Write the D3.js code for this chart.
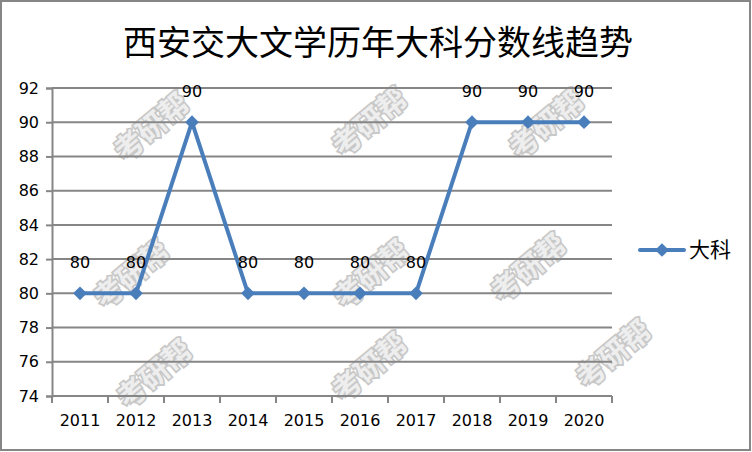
<!DOCTYPE html>
<html><head><meta charset="utf-8">
<script src="https://cdn.jsdelivr.net/npm/d3@7/dist/d3.min.js"></script>
<style>body{margin:0;background:#fff}svg{display:block}</style>
</head><body><svg id="c" width="752" height="452"></svg>
<script>
const title = "西安交大文学历年大科分数线趋势";
const years = ["2011","2012","2013","2014","2015","2016","2017","2018","2019","2020"];
const scores = [80,80,90,80,80,80,80,90,90,90];
const seriesName = "大科";
const yTicks = [74,76,78,80,82,84,86,88,90,92];
const watermarks = [[150,125],[368,120],[545,122],[130,272],[370,272],[527,266],[153,372],[368,365],[612,352]];

const svg = d3.select("#c");
const font = "'Noto Sans CJK SC','DejaVu Sans',sans-serif";
const numFont = "'DejaVu Sans','Liberation Sans',sans-serif";
svg.append("rect").attr("x",1).attr("y",1).attr("width",749).attr("height",449)
  .attr("fill","#fff").attr("stroke","#868686").attr("stroke-width",2);

const L=52,R=612,T=88,B=396;
const x = d3.scaleBand().domain(years).range([L,R]);
const y = d3.scaleLinear().domain([74,92]).range([B,T]);

// watermarks
const wm = svg.append("g");
wm.selectAll("text.o").data(watermarks).join("text").attr("class","o")
  .attr("transform",d=>`translate(${d[0]},${d[1]}) rotate(-40)`)
  .attr("text-anchor","middle").attr("dominant-baseline","central")
  .attr("font-family",font).attr("font-weight","bold").attr("font-size",29)
  .attr("fill","none").attr("stroke","#c8c8c8").attr("stroke-width",3.5)
  .text("考研帮");
wm.selectAll("text.f").data(watermarks).join("text").attr("class","f")
  .attr("transform",d=>`translate(${d[0]},${d[1]}) rotate(-40)`)
  .attr("text-anchor","middle").attr("dominant-baseline","central")
  .attr("font-family",font).attr("font-weight","bold").attr("font-size",29)
  .attr("fill","#eeeeee")
  .text("考研帮");

// gridlines
svg.append("g").selectAll("line").data(yTicks).join("line")
  .attr("x1",L).attr("x2",R).attr("y1",d=>y(d)).attr("y2",d=>y(d))
  .attr("stroke","#868686").attr("stroke-width",2);

// y axis
const ya = svg.append("g").attr("transform",`translate(${L},0)`)
  .call(d3.axisLeft(y).tickValues(yTicks).tickSize(6).tickPadding(6));
ya.select(".domain").attr("stroke","#868686").attr("stroke-width",2);
ya.selectAll(".tick line").attr("stroke","#868686").attr("stroke-width",2);
ya.selectAll("text").attr("font-family",numFont).attr("font-size",16).attr("fill","#000")
  .attr("x",-13);

// x axis
const xa = svg.append("g").attr("transform",`translate(0,${B})`)
  .call(d3.axisBottom(x).tickSize(0).tickPadding(19));
xa.select(".domain").remove();
xa.selectAll("text").attr("font-family",numFont).attr("font-size",16).attr("fill","#000");
const bounds = years.map(d=>x(d)).concat([R]);
svg.append("g").selectAll("line").data(bounds).join("line")
  .attr("x1",d=>d).attr("x2",d=>d).attr("y1",B).attr("y2",B+7)
  .attr("stroke","#868686").attr("stroke-width",2);
svg.append("line").attr("x1",L).attr("x2",R).attr("y1",B).attr("y2",B)
  .attr("stroke","#868686").attr("stroke-width",2);

// line
const cx = d=>x(d)+x.bandwidth()/2;
const pts = years.map((d,i)=>({yr:d,v:scores[i]}));
svg.append("path").datum(pts)
  .attr("d",d3.line().x(d=>cx(d.yr)).y(d=>y(d.v)))
  .attr("fill","none").attr("stroke","#4a7ebb").attr("stroke-width",4).attr("stroke-linejoin","round");
const diamond = d3.symbol().type(d3.symbolDiamond2).size(120);
svg.append("g").selectAll("path").data(pts).join("path")
  .attr("transform",d=>`translate(${cx(d.yr)},${y(d.v)})`)
  .attr("d",diamond).attr("fill","#4a7ebb");
svg.append("g").selectAll("text").data(pts).join("text")
  .attr("x",d=>cx(d.yr)).attr("y",d=>y(d.v)-25)
  .attr("text-anchor","middle").attr("font-family",numFont).attr("font-size",16).attr("fill","#000")
  .text(d=>d.v);

// title
svg.append("text").attr("x",378).attr("y",55).attr("text-anchor","middle")
  .attr("font-family",font).attr("font-size",34).attr("fill","#000").text(title);

// legend
const ly=250;
svg.append("line").attr("x1",640).attr("x2",684).attr("y1",ly).attr("y2",ly)
  .attr("stroke","#4a7ebb").attr("stroke-width",4).attr("stroke-linecap","round");
svg.append("path").attr("transform",`translate(662,${ly})`).attr("d",diamond).attr("fill","#4a7ebb");
svg.append("text").attr("x",689).attr("y",ly+7).attr("font-family",font).attr("font-size",21)
  .attr("fill","#000").text(seriesName);
</script></body></html>
